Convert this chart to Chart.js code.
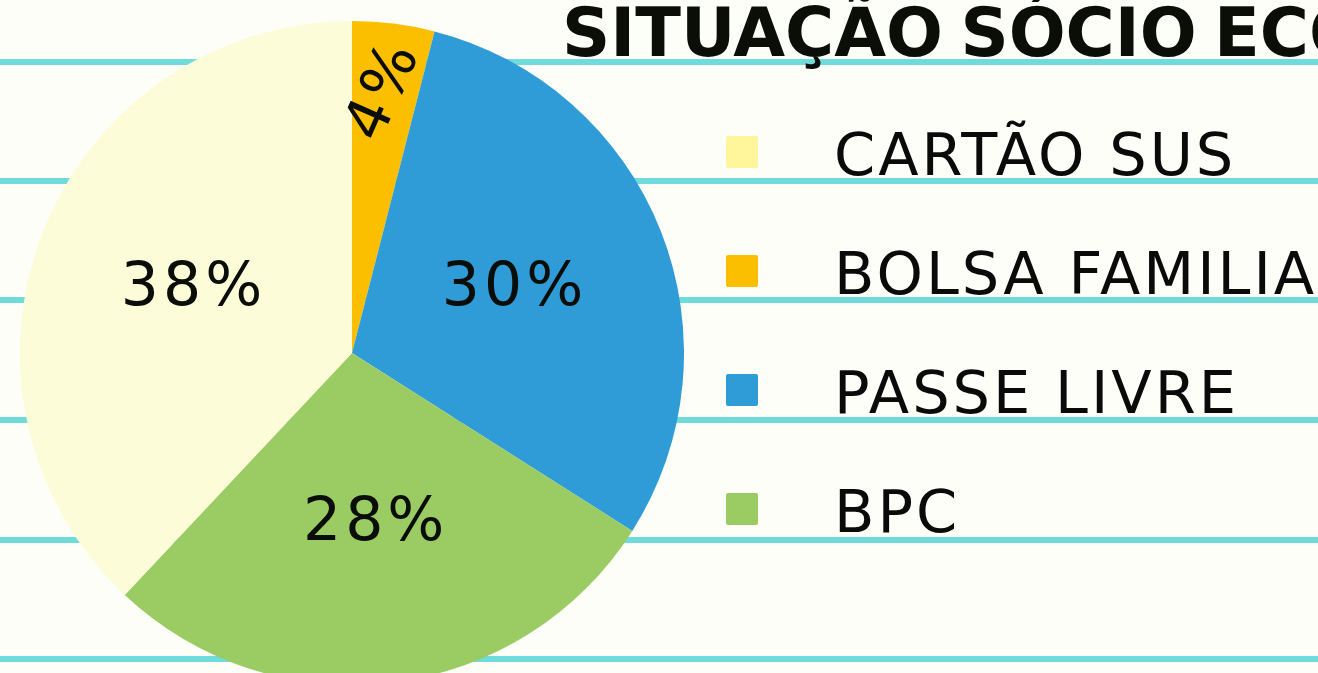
<!DOCTYPE html>
<html>
<head>
<meta charset="utf-8">
<script src="https://cdn.jsdelivr.net/npm/chart.js@4/dist/chart.umd.min.js"></script>
<style>
  html, body {
    margin: 0;
    width: 1318px;
    height: 673px;
    overflow: hidden;
    background: #fdfef8;
    font-family: "DejaVu Sans", sans-serif;
  }
  #page {
    position: relative;
    width: 1318px;
    height: 673px;
    overflow: hidden;
  }
  .linha {
    position: absolute;
    left: 0;
    width: 1318px;
    height: 6px;
    background: #6fdbdb;
  }
  #pieBox {
    position: absolute;
    left: 20px;
    top: 21px;
    width: 664px;
    height: 664px;
  }
  #titulo {
    position: absolute;
    left: 562px;
    top: 0px;
    font-size: 67px;
    line-height: 1;
    font-weight: bold;
    white-space: nowrap;
    color: #0a0d08;
    word-spacing: -6px;
  }
  .leg {
    position: absolute;
    left: 726px;
    height: 60px;
    white-space: nowrap;
  }
  .leg .quad {
    position: absolute;
    left: 0;
    top: 14px;
    width: 32px;
    height: 32px;
    border-radius: 2px;
  }
  .leg .txt {
    position: absolute;
    left: 108px;
    top: 3px;
    font-size: 59px;
    line-height: 1;
    color: #0a0a0a;
    letter-spacing: 3px;
  }
</style>
</head>
<body>
<div id="page">
  <div class="linha" style="top:59px"></div>
  <div class="linha" style="top:178px"></div>
  <div class="linha" style="top:297px"></div>
  <div class="linha" style="top:417px"></div>
  <div class="linha" style="top:537px"></div>
  <div class="linha" style="top:656px"></div>
  <div id="titulo">SITUAÇÃO SÓCIO ECONÔMICA</div>
  <div id="legenda"></div>
  <div id="pieBox"><canvas id="pizza"></canvas></div>
</div>
<script>
// dados
const categorias = ["BOLSA FAMILIA", "PASSE LIVRE", "BPC", "CARTÃO SUS"];
const valores = [4, 30, 28, 38];
const coresFatia = ["#fbbf00", "#2f9cd8", "#9bcc63", "#fdfcd8"];

// ordem da legenda (como na imagem)
const legendaOrdem = ["CARTÃO SUS", "BOLSA FAMILIA", "PASSE LIVRE", "BPC"];
const legendaCores = ["#fff59a", "#fbbf00", "#2f9cd8", "#9bcc63"];

const legBox = document.getElementById("legenda");
legendaOrdem.forEach((nome, i) => {
  const d = document.createElement("div");
  d.className = "leg";
  d.style.top = (122 + i * 119) + "px";
  d.innerHTML = `<div class="quad" style="background:${legendaCores[i]}"></div><div class="txt">${nome}</div>`;
  legBox.appendChild(d);
});

// desenha os % dentro das fatias
const rotulos = {
  id: "rotulos",
  afterDatasetsDraw(chart) {
    const ctx = chart.ctx;
    const meta = chart.getDatasetMeta(0);
    const total = valores.reduce((a, b) => a + b, 0);
    meta.data.forEach((arc, i) => {
      const v = valores[i];
      const meio = (arc.startAngle + arc.endAngle) / 2;
      const pequeno = v / total < 0.1;
      const r = arc.outerRadius * (pequeno ? 0.79 : 0.52);
      const x = arc.x + Math.cos(meio) * r;
      const y = arc.y + Math.sin(meio) * r;
      ctx.save();
      ctx.translate(x, y);
      if (pequeno) ctx.rotate(-66 * Math.PI / 180);
      ctx.fillStyle = "#0a0d08";
      ctx.font = '60px "DejaVu Sans", sans-serif';
      ctx.letterSpacing = "4px";
      ctx.textAlign = "center";
      ctx.textBaseline = "middle";
      ctx.fillText(v + "%", 2, 0);
      ctx.restore();
    });
  }
};

new Chart(document.getElementById("pizza"), {
  type: "pie",
  data: {
    labels: categorias,
    datasets: [{
      data: valores,
      backgroundColor: coresFatia,
      borderWidth: 0
    }]
  },
  options: {
    responsive: true,
    maintainAspectRatio: false,
    animation: false,
    layout: { padding: 0 },
    plugins: {
      legend: { display: false },
      tooltip: { enabled: false }
    }
  },
  plugins: [rotulos]
});
</script>
</body>
</html>
